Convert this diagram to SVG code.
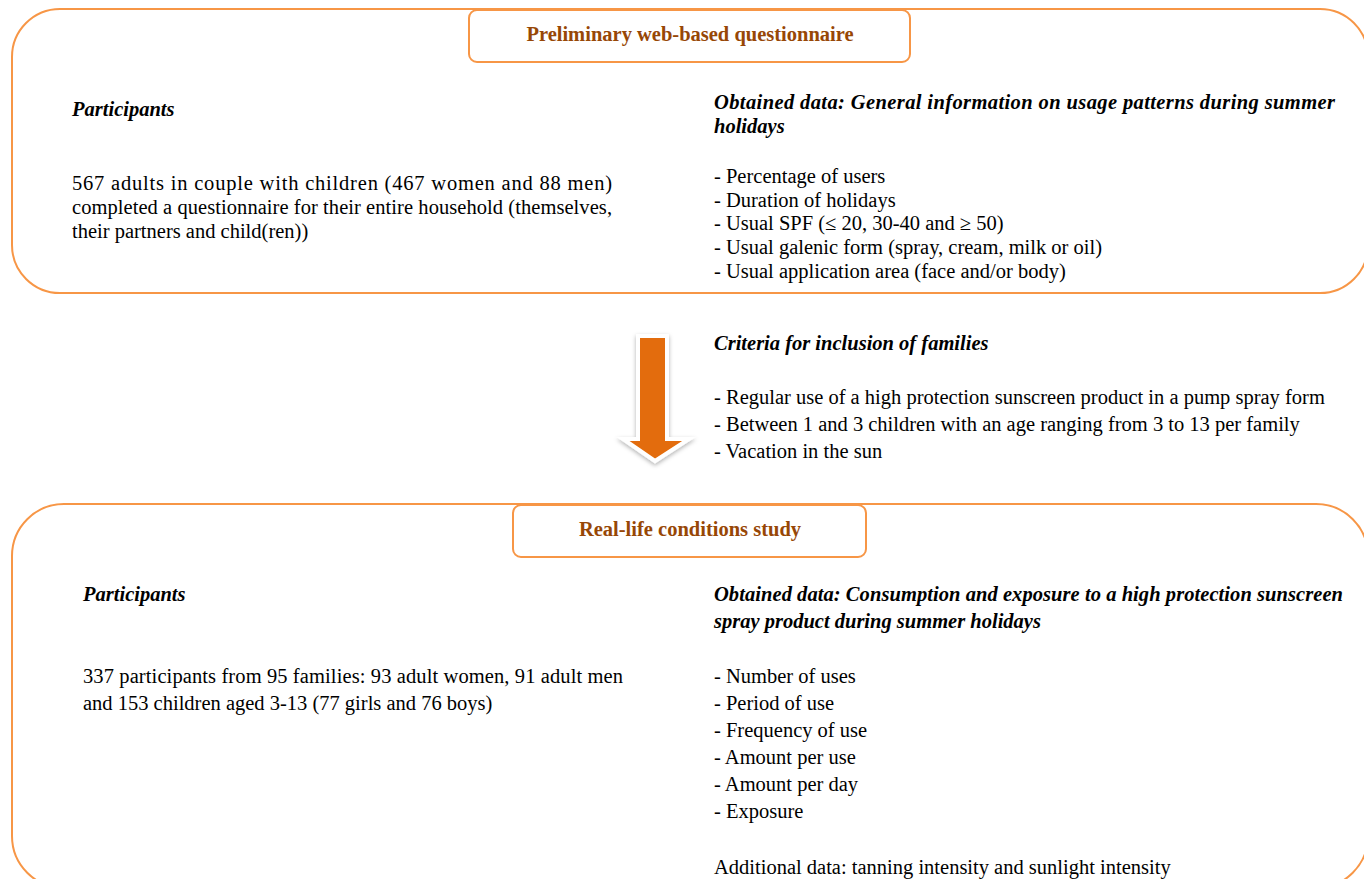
<svg xmlns="http://www.w3.org/2000/svg" width="1364" height="879" viewBox="0 0 1364 879">
<style>
.frame{fill:#fff;stroke:#F79646;stroke-width:2}
.tbox{fill:#fff;stroke:#F79646;stroke-width:2}
.title{font-family:"Liberation Serif",serif;font-weight:bold;font-size:20.5px;fill:#974706;text-anchor:middle}
.t{font-family:"Liberation Serif",serif;font-size:20.5px;fill:#000}
.h{font-family:"Liberation Serif",serif;font-size:20.5px;font-weight:bold;font-style:italic;fill:#000}
</style>
<defs>
<filter id="sh" x="-30%" y="-30%" width="160%" height="160%">
<feDropShadow dx="0" dy="2" stdDeviation="2" flood-color="#000" flood-opacity="0.3"/>
</filter>
</defs>
<g id="questionnaire">
<rect class="frame" x="12" y="9" width="1356" height="284" rx="48"/>
<rect class="tbox" x="469" y="10" width="441" height="52" rx="8"/>
<text class="title" x="690" y="41">Preliminary web-based questionnaire</text>
<text class="h" x="72" y="116">Participants</text>
<text class="t" x="72" y="190" textLength="540" lengthAdjust="spacing">567 adults in couple with children (467 women and 88 men)</text>
<text class="t" x="72" y="214" textLength="540" lengthAdjust="spacing">completed a questionnaire for their entire household (themselves,</text>
<text class="t" x="72" y="238">their partners and child(ren))</text>
<text class="h" x="714" y="109" textLength="621" lengthAdjust="spacing">Obtained data: General information on usage patterns during summer</text>
<text class="h" x="714" y="133">holidays</text>
<text class="t" x="714" y="183">- Percentage of users</text>
<text class="t" x="714" y="207">- Duration of holidays</text>
<text class="t" x="714" y="230">- Usual SPF (≤ 20, 30-40 and ≥ 50)</text>
<text class="t" x="714" y="254">- Usual galenic form (spray, cream, milk or oil)</text>
<text class="t" x="714" y="278">- Usual application area (face and/or body)</text>
</g>
<g id="connectors">
<path d="M638,336 L667,336 L667,439 L689,439 L655,461 L623,439 L638,439 Z" fill="#E36C09" stroke="#fff" stroke-width="4" stroke-linejoin="miter" filter="url(#sh)"/>
</g>
<g id="criteria">
<text class="h" x="714" y="350">Criteria for inclusion of families</text>
<text class="t" x="714" y="404">- Regular use of a high protection sunscreen product in a pump spray form</text>
<text class="t" x="714" y="431">- Between 1 and 3 children with an age ranging from 3 to 13 per family</text>
<text class="t" x="714" y="458">- Vacation in the sun</text>
</g>
<g id="study">
<rect class="frame" x="12" y="504" width="1356" height="384" rx="52"/>
<rect class="tbox" x="513" y="505" width="353" height="52" rx="8"/>
<text class="title" x="690" y="536">Real-life conditions study</text>
<text class="h" x="83" y="601">Participants</text>
<text class="t" x="83" y="683" textLength="540" lengthAdjust="spacing">337 participants from 95 families: 93 adult women, 91 adult men</text>
<text class="t" x="83" y="710">and 153 children aged 3-13 (77 girls and 76 boys)</text>
<text class="h" x="714" y="601" textLength="629" lengthAdjust="spacing">Obtained data: Consumption and exposure to a high protection sunscreen</text>
<text class="h" x="714" y="628">spray product during summer holidays</text>
<text class="t" x="714" y="683">- Number of uses</text>
<text class="t" x="714" y="710">- Period of use</text>
<text class="t" x="714" y="737">- Frequency of use</text>
<text class="t" x="714" y="764">- Amount per use</text>
<text class="t" x="714" y="791">- Amount per day</text>
<text class="t" x="714" y="818">- Exposure</text>
<text class="t" x="714" y="874">Additional data: tanning intensity and sunlight intensity</text>
</g>
</svg>
